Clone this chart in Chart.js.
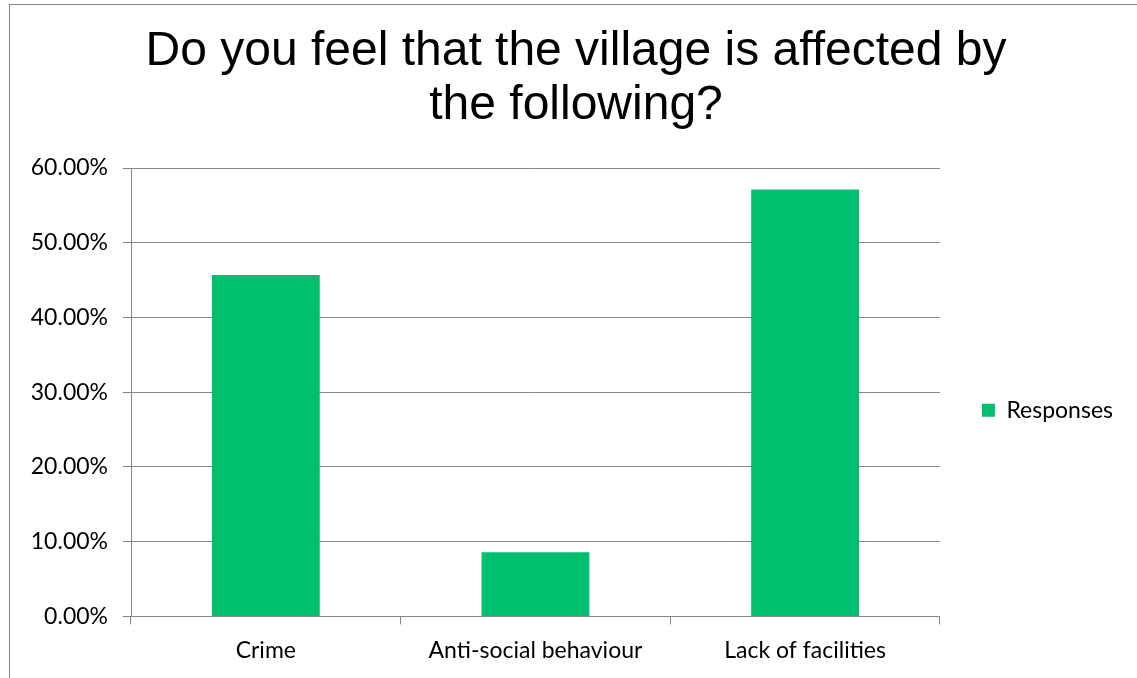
<!DOCTYPE html>
<html>
<head>
<meta charset="utf-8">
<script src="https://cdn.jsdelivr.net/npm/chart.js@4.4.0/dist/chart.umd.min.js"></script>
<style>
  html, body { margin: 0; padding: 0; background: #fff; }
  #marco { position: absolute; left: 9px; top: 4px; width: 1200px; height: 800px; border: 1px solid #868686; }
  #caja { position: absolute; left: 0; top: 0; width: 1137px; height: 678px; }
</style>
</head>
<body>
<div id="marco"></div>
<div id="caja"><canvas id="grafica"></canvas></div>
<script>
/* ===============================
   DATOS
=============================== */
const categorias = ["Crime", "Anti-social behaviour", "Lack of facilities"];
const respuestas = [0.4569, 0.0858, 0.5712];
const serieNombre = "Responses";
const titulo = ["Do you feel that the village is affected by", "the following?"];

const verde = "#00BF6F";
const gris = "#868686";
const fuenteEjes = "Lato, 'Open Sans', sans-serif";

/* ===============================
   GRÁFICA
=============================== */
new Chart(document.getElementById("grafica"), {
  type: "bar",
  data: {
    labels: categorias,
    datasets: [{
      label: serieNombre,
      data: respuestas,
      backgroundColor: verde,
      borderWidth: 0,
      barPercentage: 0.4,
      categoryPercentage: 1
    }]
  },
  options: {
    responsive: true,
    maintainAspectRatio: false,
    animation: false,
    layout: { padding: { left: 29, right: 14, top: 25, bottom: 2 } },
    plugins: {
      title: {
        display: true,
        text: titulo,
        color: "#000",
        font: { family: "'Liberation Sans', Arial, sans-serif", size: 48, weight: "normal", lineHeight: 1.125 },
        padding: { top: 0, bottom: 35 }
      },
      legend: {
        display: true,
        position: "right",
        fullSize: false,
        // título vacío solo para bajar un poco la leyenda
        title: { display: true, text: " ", font: { size: 10, lineHeight: 1 }, padding: { top: 26, bottom: 0 } },
        labels: {
          color: "#000",
          font: { family: fuenteEjes, size: 23 },
          boxWidth: 13,
          boxHeight: 13,
          padding: 42
        }
      },
      tooltip: { enabled: false }
    },
    scales: {
      x: {
        grid: { display: true, drawOnChartArea: false, drawTicks: true, tickLength: 8, color: gris, offset: true },
        border: { display: true, color: gris, width: 1 },
        ticks: { color: "#000", font: { family: fuenteEjes, size: 23 }, padding: 12 }
      },
      y: {
        min: 0,
        max: 0.6,
        grid: { color: gris, drawTicks: true, tickLength: 8 },
        border: { display: true, color: gris, width: 1 },
        afterFit: (eje) => { eje.width = 102; },
        ticks: {
          stepSize: 0.1,
          color: "#000",
          font: { family: fuenteEjes, size: 23 },
          padding: 15,
          callback: (v) => (v * 100).toFixed(2) + "%"
        }
      }
    }
  }
});
</script>
</body>
</html>
